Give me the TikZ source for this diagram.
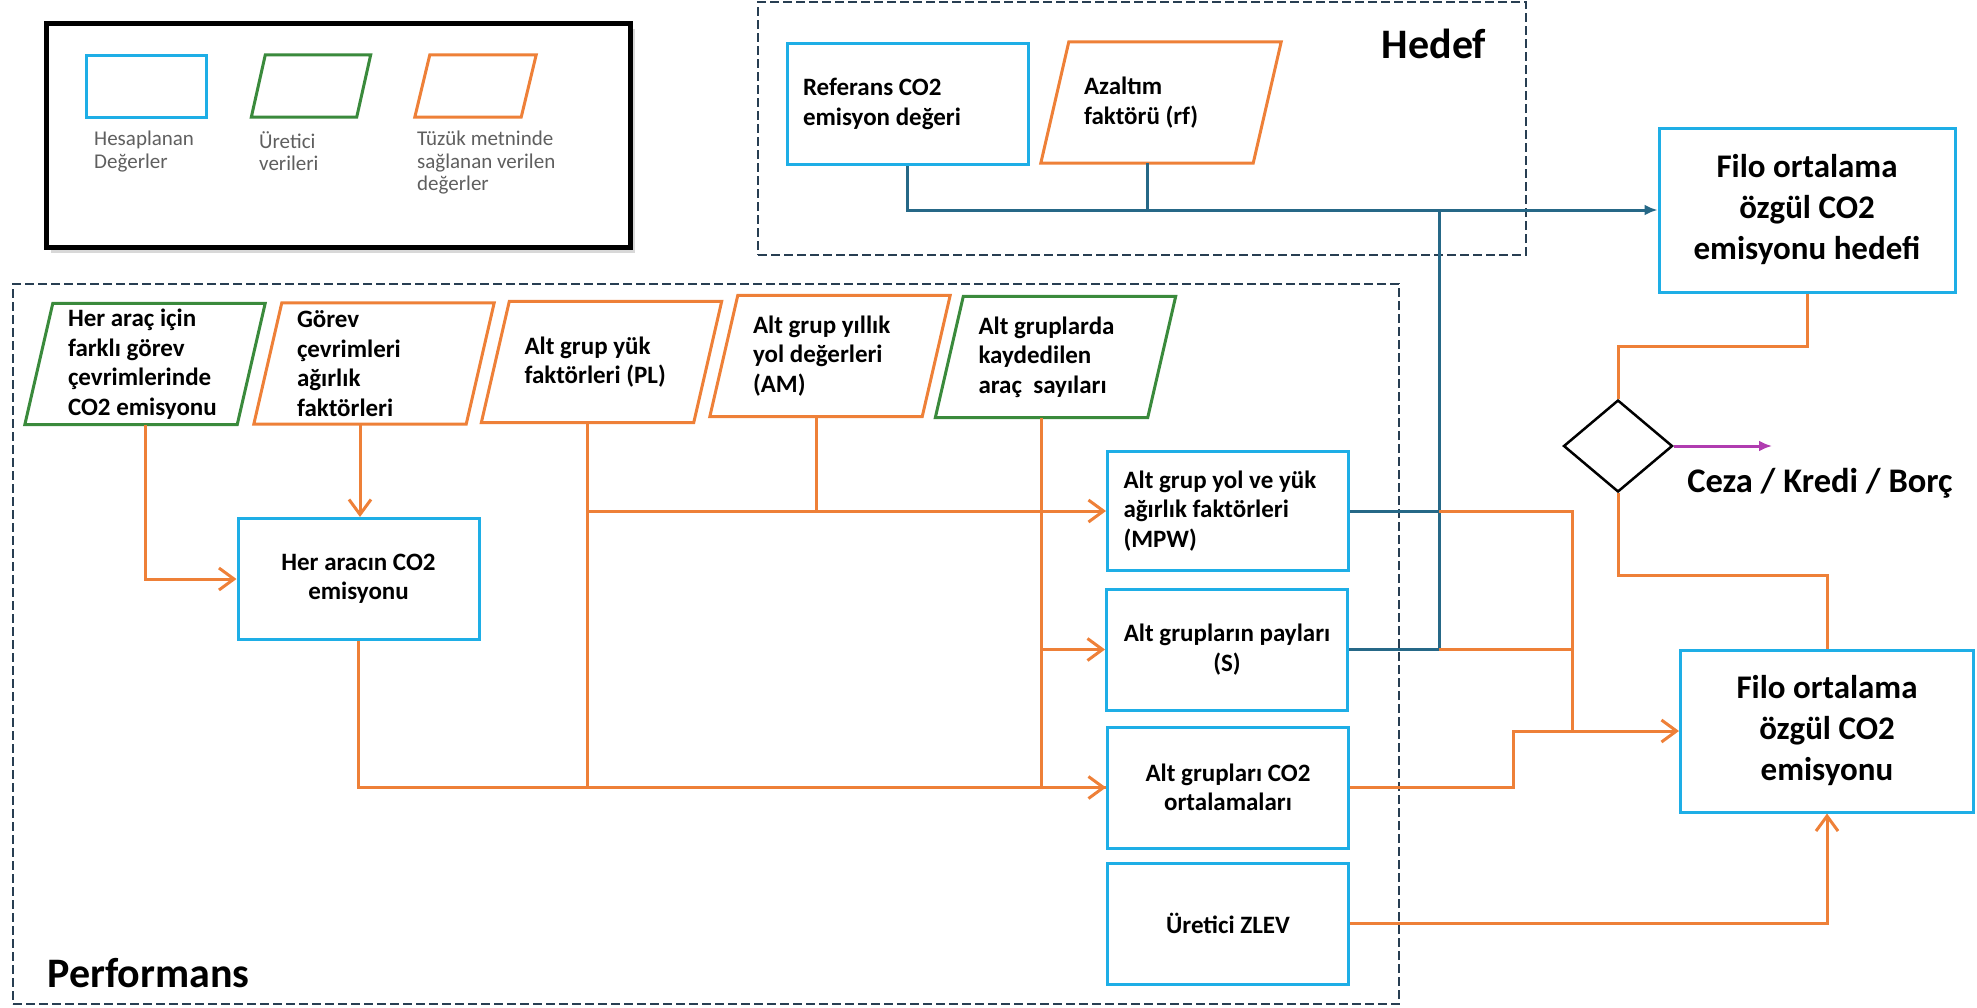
\documentclass[tikz,border=0pt]{standalone}
\usepackage{fontspec}
\setmainfont{Carlito}
\usetikzlibrary{positioning,calc,shapes.geometric,arrows.meta,shadows}

\definecolor{hesapblue}{RGB}{30,174,230}
\definecolor{uretgreen}{RGB}{58,138,60}
\definecolor{tuzukorange}{RGB}{238,128,56}
\definecolor{hedefline}{RGB}{38,104,135}
\definecolor{zoneline}{RGB}{40,62,82}
\definecolor{kararline}{RGB}{176,60,176}
\definecolor{legendtext}{RGB}{95,95,95}

\newcommand{\boxfont}{\fontsize{25}{29.5}\selectfont\bfseries}
\newcommand{\bigfont}{\fontsize{33}{41}\selectfont\bfseries}
\newcommand{\zonefont}{\fontsize{42}{48}\selectfont\bfseries}
\newcommand{\legfont}{\fontsize{21}{22.5}\selectfont}

\begin{document}
\begin{tikzpicture}[x=1pt,y=-1pt,>=latex]
		
		\tikzset{
			hesap/.style={draw=hesapblue, line width=3pt, minimum width=241pt, minimum height=121pt,
				inner sep=0pt, align=center, font=\boxfont},
			hesapleft/.style={hesap, text width=209pt, inner xsep=16pt, align=flush left},
			% egik cerceve: govde dikdortgeninin altini sola, ustunu saga kaydir
			slantframe/.style 2 args={append after command={\pgfextra{
						\draw[draw=#1, line width=3pt]
						([xshift=-#2]\tikzlastnode.south west) -- (\tikzlastnode.north west)
						-- ([xshift=#2]\tikzlastnode.north east) -- (\tikzlastnode.south east) -- cycle;}}},
			veri/.style={minimum width=184pt, minimum height=121pt, text width=154pt,
				inner xsep=15pt, inner ysep=0pt, align=flush left, font=\boxfont},
			uretici/.style={veri, slantframe={uretgreen}{28pt}},
			tuzuk/.style={veri, slantframe={tuzukorange}{28pt}},
			zone/.style={draw=zoneline, line width=2.5pt, dash pattern=on 9pt off 4pt},
			legtxt/.style={inner sep=0pt, align=flush left, text=legendtext, font=\legfont},
			akis/.style={draw=tuzukorange, line width=3pt},
			hedefakis/.style={draw=hedefline, line width=3pt},
			ok/.style={-{Straight Barb[length=15pt, width=22pt]}}
		}
		
		\useasboundingbox (0,0) rectangle (1977,1007);
		
		% ===== LEJANT =====
		\node[draw=black, fill=white, line width=5pt, minimum width=584pt, minimum height=224pt,
			drop shadow={shadow xshift=5pt, shadow yshift=-6pt, fill=black!30}] (legend) at (338,135) {};
		\node[hesap, minimum width=120pt, minimum height=62pt] (lhesap) at (146,86) {};
		\node[minimum width=91pt, minimum height=62pt, inner sep=0pt, slantframe={uretgreen}{14pt}] (luretici) at (311,86) {};
		\node[minimum width=91pt, minimum height=62pt, inner sep=0pt, slantframe={tuzukorange}{15pt}] (ltuzuk) at (475.5,86) {};
		
		\node[legtxt, anchor=north west] (lhesaptxt) at (94,131) {Hesaplanan\\Değerler};
		\node[legtxt, anchor=north west] (luretxt) at (259,131) {Üretici\\verileri};
		\node[legtxt, anchor=north west] (ltuzuktxt) at (417,131) {Tüzük metninde\\sağlanan verilen\\değerler};
		
		% ===== HEDEF =====
		\node[zone, minimum width=768pt, minimum height=253pt] (hedefzone) at (1142,128.5) {};
		\node[font=\zonefont, anchor=base] (hedeftitle) at (1434,58) {Hedef};
		
		\node[hesapleft] (ref) at (907.5,104) {Referans CO2\\emisyon değeri};
		\node[tuzuk] (rf) at (1161,102.5) {Azaltım\\faktörü (rf)};
		
		% ===== PERFORMANS =====
		\node[zone, minimum width=1386pt, minimum height=720pt] (perfzone) at (706,644) {};
		\node[font=\zonefont, anchor=base] (perftitle) at (148.5,987) {Performans};
		
		\node[uretici] (hac) at (145,364) {Her araç için\\farklı görev\\çevrimlerinde\\CO2 emisyonu};
		\node[tuzuk] (gorev) at (374,363.5) {Görev\\çevrimleri\\ağırlık\\faktörleri};
		\node[tuzuk] (pl) at (601.5,362) {Alt grup yük\\faktörleri (PL)};
		\node[tuzuk] (am) at (830,356) {Alt grup yıllık\\yol değerleri\\(AM)};
		\node[uretici] (sayi) at (1055.5,357) {Alt gruplarda\\kaydedilen\\araç\ \ sayıları};
		
		\node[hesap] (hco) at (358.5,579) {Her aracın CO2\\emisyonu};
		\node[hesapleft, minimum height=119pt] (mpw) at (1228,511) {Alt grup yol ve yük\\ağırlık faktörleri\\(MPW)};
		\node[hesap] (pay) at (1227,649.5) {Alt grupların payları\\(S)};
		\node[hesap] (ort) at (1228,787.5) {Alt grupları CO2\\ortalamaları};
		\node[hesap] (zlev) at (1228,923.5) {Üretici ZLEV};
		
		% ===== SAĞ TARAF =====
		\node[hesap, minimum width=296pt, minimum height=164pt, font=\bigfont] (hedefi) at (1807,210)
		{Filo ortalama\\özgül CO2\\emisyonu hedefi};
		\node[diamond, draw=black, line width=2.5pt, minimum width=109pt, minimum height=92pt,
			inner sep=0pt] (karar) at (1618,446) {};
		\node[font=\fontsize{34.5}{40}\selectfont\bfseries, anchor=base] (ceza) at (1820,492) {Ceza / Kredi / Borç};
		\node[hesap, minimum width=293pt, minimum height=162pt, font=\bigfont] (emis) at (1827,731)
		{Filo ortalama\\özgül CO2\\emisyonu};
		
		\coordinate (hj) at (1439,210);
		\coordinate (oj) at ([xshift=-107pt]emis.west);
		\coordinate (cezaok) at (1772,446);
		
		% ===== MAVİ BAĞLANTILAR =====
		\draw[hedefakis, -{Latex[length=13pt, width=11pt]}] (ref.south) |- (hedefi.west);
		\draw[hedefakis] ([xshift=-14pt]rf.south) -- ([xshift=-14pt]rf.south |- hedefi.west);
		\draw[hedefakis] (hj) |- (pay.east);
		\draw[hedefakis] (mpw.east) -- (mpw.east -| hj);
		
		% ===== TURUNCU BAĞLANTILAR =====
		\draw[akis, ok] (hac.south) |- (hco.west);
		\draw[akis, ok] ([xshift=-14pt]gorev.south) -- ([xshift=-14pt]gorev.south |- hco.north);
		\draw[akis] ([xshift=-14pt]pl.south) |- (ort.west);
		\draw[akis] ([xshift=-14pt]am.south) -- ([xshift=-14pt]am.south |- mpw.west);
		\draw[akis, ok] ([xshift=-14pt]pl.south |- mpw.west) -- (mpw.west);
		\draw[akis, ok] (hco.south) |- (ort.west);
		\draw[akis] ([xshift=-14pt]sayi.south) -- ([xshift=-14pt]sayi.south |- ort.west);
		\draw[akis, ok] ([xshift=-14pt]sayi.south |- pay.west) -- (pay.west);
		
		\draw[akis, ok] (mpw.east -| hj) -| (oj) -- (emis.west);
		\draw[akis] (pay.east -| hj) -- (pay.east -| oj);
		\draw[akis] (ort.east) -| ([xshift=-59pt]oj) -- (oj);
		\draw[akis, ok] (zlev.east) -| (emis.south);
		
		\draw[akis] (hedefi.south) -- ++(0,53) -| (karar.north);
		\draw[akis] (karar.south) -- ++(0,82) -| (emis.north);
		\draw[draw=kararline, line width=3pt, -{Latex[length=13pt, width=11pt]}] (karar.east) -- (cezaok);
		
\end{tikzpicture}
\end{document}
